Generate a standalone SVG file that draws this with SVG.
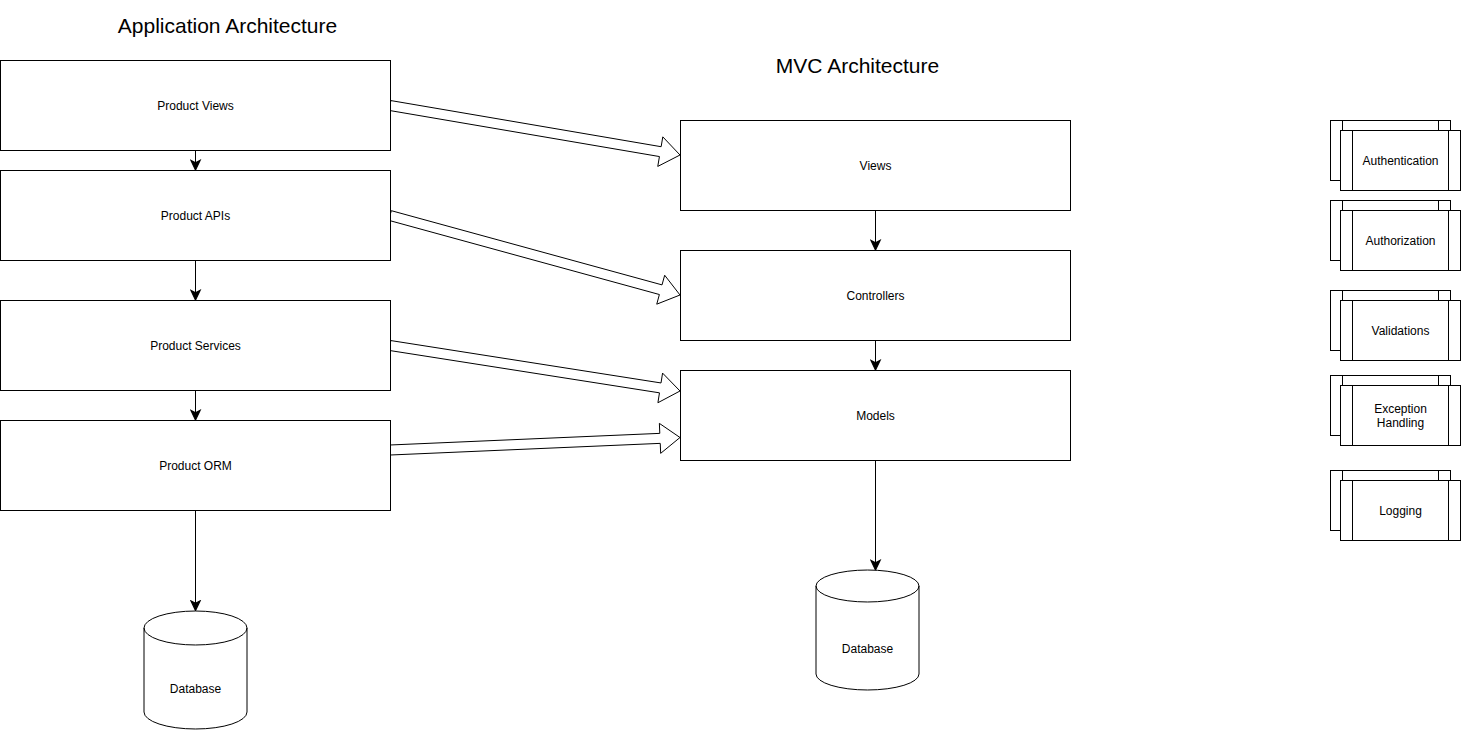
<svg xmlns="http://www.w3.org/2000/svg" width="1461" height="731" viewBox="0 0 1461 731">
<defs>
<style>
.box{fill:#fff;stroke:#000;stroke-width:1}
.ln{fill:none;stroke:#000;stroke-width:1}
.t{font-family:"Liberation Sans",Arial,sans-serif;font-size:12px;fill:#000;text-anchor:middle}
.title{font-family:"Liberation Sans",Arial,sans-serif;font-size:21px;fill:#000;text-anchor:middle}
.flex{fill:#fff;stroke:#000;stroke-width:1;stroke-linejoin:miter}
</style>
<marker id="arr" markerUnits="userSpaceOnUse" markerWidth="12" markerHeight="12" viewBox="0 0 10 10" refX="9" refY="5" orient="auto">
<path d="M1,1.2 L9,5 L1,8.8 L3,5 Z" fill="#000" stroke="#000" stroke-width="1"/>
</marker>
</defs>
<rect width="1461" height="731" fill="#fff"/>

<g id="titles">
<text class="title" x="227.5" y="33">Application Architecture</text>
<text class="title" x="857.5" y="73">MVC Architecture</text>
</g>

<g id="connectors">
<line class="ln" x1="195.5" y1="150.5" x2="195.5" y2="170" marker-end="url(#arr)"/>
<line class="ln" x1="195.5" y1="260.5" x2="195.5" y2="300" marker-end="url(#arr)"/>
<line class="ln" x1="195.5" y1="390.5" x2="195.5" y2="420" marker-end="url(#arr)"/>
<line class="ln" x1="195.5" y1="510.5" x2="195.5" y2="610.5" marker-end="url(#arr)"/>
<line class="ln" x1="875.5" y1="210.5" x2="875.5" y2="250" marker-end="url(#arr)"/>
<line class="ln" x1="875.5" y1="340.5" x2="875.5" y2="370" marker-end="url(#arr)"/>
<line class="ln" x1="875.5" y1="460.5" x2="875.5" y2="570" marker-end="url(#arr)"/>
<polygon class="flex" points="390.84,100.57 661.13,146.71 662.81,136.85 680,155 657.76,166.42 659.44,156.56 389.16,110.43"/>
<polygon class="flex" points="391.32,210.68 662.03,284.89 664.68,275.24 680,295 656.74,304.18 659.39,294.53 388.68,220.32"/>
<polygon class="flex" points="390.78,340.56 661.02,382.96 662.57,373.08 680,391 657.92,402.72 659.47,392.84 389.22,350.44"/>
<polygon class="flex" points="389.78,445 659.8,433.37 659.37,423.37 680,437.5 660.67,453.35 660.24,443.36 390.22,455"/>
</g>

<g id="product-views"><rect class="box" x="0.5" y="60.5" width="390" height="90"/><text class="t" x="195.5" y="109.5">Product Views</text></g>
<g id="product-apis"><rect class="box" x="0.5" y="170.5" width="390" height="90"/><text class="t" x="195.5" y="219.5">Product APIs</text></g>
<g id="product-services"><rect class="box" x="0.5" y="300.5" width="390" height="90"/><text class="t" x="195.5" y="349.5">Product Services</text></g>
<g id="product-orm"><rect class="box" x="0.5" y="420.5" width="390" height="90"/><text class="t" x="195.5" y="469.5">Product ORM</text></g>

<g id="database-left">
<path class="box" d="M144,628 A51.5,17 0 0 1 247,628 V712 A51.5,17 0 0 1 144,712 Z"/>
<path class="ln" d="M144,628 A51.5,17 0 0 0 247,628"/>
<text class="t" x="195.5" y="693">Database</text>
</g>

<g id="views"><rect class="box" x="680.5" y="120.5" width="390" height="90"/><text class="t" x="875.5" y="169.5">Views</text></g>
<g id="controllers"><rect class="box" x="680.5" y="250.5" width="390" height="90"/><text class="t" x="875.5" y="299.5">Controllers</text></g>
<g id="models"><rect class="box" x="680.5" y="370.5" width="390" height="90"/><text class="t" x="875.5" y="419.5">Models</text></g>

<g id="database-mvc">
<path class="box" d="M816,586 A51.5,16 0 0 1 919,586 V674 A51.5,16 0 0 1 816,674 Z"/>
<path class="ln" d="M816,586 A51.5,16 0 0 0 919,586"/>
<text class="t" x="867.5" y="652.5">Database</text>
</g>

<g id="authentication">
<rect class="box" x="1330.5" y="120.5" width="120" height="60"/>
<line class="ln" x1="1342.5" y1="120.5" x2="1342.5" y2="180.5"/><line class="ln" x1="1438.5" y1="120.5" x2="1438.5" y2="180.5"/>
<rect class="box" x="1340.5" y="130.5" width="120" height="60"/>
<line class="ln" x1="1352.5" y1="130.5" x2="1352.5" y2="190.5"/><line class="ln" x1="1448.5" y1="130.5" x2="1448.5" y2="190.5"/>
<text class="t" x="1400.5" y="164.5">Authentication</text>
</g>
<g id="authorization">
<rect class="box" x="1330.5" y="200.5" width="120" height="60"/>
<line class="ln" x1="1342.5" y1="200.5" x2="1342.5" y2="260.5"/><line class="ln" x1="1438.5" y1="200.5" x2="1438.5" y2="260.5"/>
<rect class="box" x="1340.5" y="210.5" width="120" height="60"/>
<line class="ln" x1="1352.5" y1="210.5" x2="1352.5" y2="270.5"/><line class="ln" x1="1448.5" y1="210.5" x2="1448.5" y2="270.5"/>
<text class="t" x="1400.5" y="244.5">Authorization</text>
</g>
<g id="validations">
<rect class="box" x="1330.5" y="290.5" width="120" height="60"/>
<line class="ln" x1="1342.5" y1="290.5" x2="1342.5" y2="350.5"/><line class="ln" x1="1438.5" y1="290.5" x2="1438.5" y2="350.5"/>
<rect class="box" x="1340.5" y="300.5" width="120" height="60"/>
<line class="ln" x1="1352.5" y1="300.5" x2="1352.5" y2="360.5"/><line class="ln" x1="1448.5" y1="300.5" x2="1448.5" y2="360.5"/>
<text class="t" x="1400.5" y="334.5">Validations</text>
</g>
<g id="exception-handling">
<rect class="box" x="1330.5" y="375.5" width="120" height="60"/>
<line class="ln" x1="1342.5" y1="375.5" x2="1342.5" y2="435.5"/><line class="ln" x1="1438.5" y1="375.5" x2="1438.5" y2="435.5"/>
<rect class="box" x="1340.5" y="385.5" width="120" height="60"/>
<line class="ln" x1="1352.5" y1="385.5" x2="1352.5" y2="445.5"/><line class="ln" x1="1448.5" y1="385.5" x2="1448.5" y2="445.5"/>
<text class="t" x="1400.5" y="412.5">Exception</text>
<text class="t" x="1400.5" y="426.5">Handling</text>
</g>
<g id="logging">
<rect class="box" x="1330.5" y="470.5" width="120" height="60"/>
<line class="ln" x1="1342.5" y1="470.5" x2="1342.5" y2="530.5"/><line class="ln" x1="1438.5" y1="470.5" x2="1438.5" y2="530.5"/>
<rect class="box" x="1340.5" y="480.5" width="120" height="60"/>
<line class="ln" x1="1352.5" y1="480.5" x2="1352.5" y2="540.5"/><line class="ln" x1="1448.5" y1="480.5" x2="1448.5" y2="540.5"/>
<text class="t" x="1400.5" y="514.5">Logging</text>
</g>
</svg>
